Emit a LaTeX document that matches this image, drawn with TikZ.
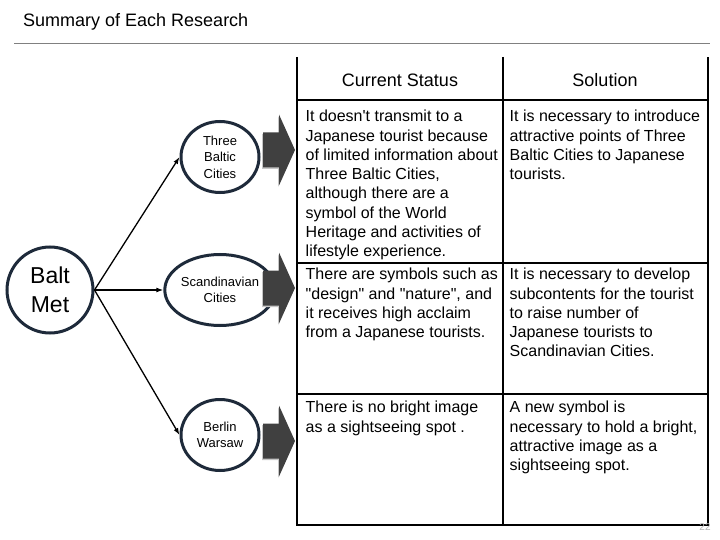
\documentclass[tikz,border=0pt]{standalone}
\usepackage{fontspec}
\setmainfont{Liberation Sans}[Ligatures=TeXOff]
\usetikzlibrary{arrows.meta,shapes.geometric}
\definecolor{ringc}{RGB}{30,42,58}
\definecolor{blkc}{RGB}{64,64,64}
\tikzset{
 ringnode/.style={ellipse, draw=ringc, line width=3pt, minimum width=78pt, minimum height=71pt, inner sep=0pt, align=center, font=\fontsize{13}{16.5}\selectfont},
 link/.style={line width=1.3pt, -{Latex[length=7pt,width=5pt]}},
 cell/.style={anchor=north west, inner sep=0pt, align=left, font=\fontsize{16}{19.3}\selectfont},
 headtxt/.style={anchor=base, inner sep=0pt, font=\fontsize{18}{20}\selectfont},
 tabline/.style={line width=2.2pt, black},
 barrow/.style={fill=blkc}
}
\begin{document}
\begin{tikzpicture}[x=1pt,y=-1pt]
\useasboundingbox (0,0) rectangle (720,540);
% title
\node[anchor=base west, inner sep=0pt, font=\fontsize{18}{20}\selectfont] (title) at (23,27) {Summary of Each Research};
\draw[gray, line width=1pt] (14,44) -- (710,44);
% main circle
\node[circle, draw=ringc, line width=3pt, minimum size=86pt, inner sep=0pt, align=center, font=\fontsize{23}{29}\selectfont] (bm) at (50,290) {Balt\\Met};
% sub circles
\node[ringnode] (tb) at (220,157) {Three\\Baltic\\Cities};
\node[ringnode] (sc) at (220,290) {Scandinavian\\Cities};
\node[ringnode] (bw) at (220,435) {Berlin\\Warsaw};
\coordinate (hub) at (bm.east);
\draw[link] (hub) -- (tb.west);
\draw[link] (hub) -- (sc.west);
\draw[link] (hub) -- (bw.west);
% block arrows
\foreach \c in {150,288,441}{
  \fill[gray!45] (262,\c-16) -- (278,\c-16) -- (278,\c-34) -- (294,\c+1.5) -- (278,\c+37) -- (278,\c+19) -- (262,\c+19) -- cycle;
  \fill[barrow] (263,\c-17.5) -- (279,\c-17.5) -- (279,\c-35.5) -- (295,\c) -- (279,\c+35.5) -- (279,\c+17.5) -- (263,\c+17.5) -- cycle;
}
% table
\draw[tabline] (297,57) -- (297,525) -- (708,525) -- (708,57);
\draw[tabline] (503,57) -- (503,525);
\draw[tabline] (297,100) -- (708,100);
\draw[tabline] (297,263) -- (708,263);
\draw[tabline] (297,394) -- (708,394);
\node[headtxt] (h1) at (400,87) {Current Status};
\node[headtxt] (h2) at (605,87) {Solution};
\node[cell] (r1a) at (305.5,110) {It doesn't transmit to a\\Japanese tourist because\\of limited information about\\Three Baltic Cities,\\although there are a\\symbol of the World\\Heritage and activities of\\lifestyle experience.};
\node[cell] (r1b) at (509.5,110) {It is necessary to introduce\\attractive points of Three\\Baltic Cities to Japanese\\tourists.};
\node[cell] (r2a) at (305.5,268) {There are symbols such as\\"design" and "nature", and\\it receives high acclaim\\from a Japanese tourists.};
\node[cell] (r2b) at (509.5,268) {It is necessary to develop\\subcontents for the tourist\\to raise number of\\Japanese tourists to\\Scandinavian Cities.};
\node[cell] (r3a) at (305.5,401) {There is no bright image\\as a sightseeing spot .};
\node[cell] (r3b) at (509.5,401) {A new symbol is\\necessary to hold a bright,\\attractive image as a\\sightseeing spot.};
\node[text=gray!60, inner sep=0pt, font=\fontsize{10}{12}\selectfont] (pg) at (705,527) {22};
\end{tikzpicture}
\end{document}
